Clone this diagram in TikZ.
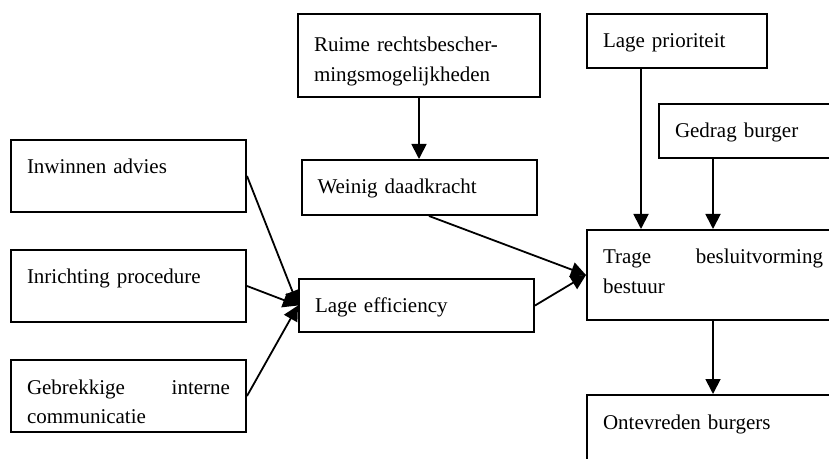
\documentclass[tikz,border=0pt]{standalone}
\usepackage{fontspec}
\setmainfont{Liberation Serif}
\usetikzlibrary{arrows.meta, positioning}
\tikzset{
    % text frames: text sits at the top left, frame grows downwards with text depth
    factor/.style = {rectangle, draw, line width=1pt, anchor=north west, align=left, inner xsep=8pt, inner ysep=9.5pt, text height=7.5pt, text width=101.5pt, font=\fontsize{10.5}{14.7}\selectfont},
    arrow/.style = {line width=0.9pt, -{Triangle[length=7.5pt, width=7.5pt]}}
}
\begin{document}
\begin{tikzpicture}[x=0.5pt, y=-0.5pt]
\useasboundingbox (0,0) rectangle (829,459);
\clip (0,0) rectangle (829,459);

% left column
\node[factor, text depth=9.5pt] (advies) at (10,139) {Inwinnen advies};
\node[factor, text depth=9.5pt, below=18pt of advies] (procedure) {Inrichting procedure};
\node[factor, text depth=9.5pt, below=18pt of procedure] (communicatie) {Gebrekkige\hfill interne\\communicatie};

% middle column
\node[factor, text width=105pt, text height=9.5pt, text depth=13pt] (rechtsbescherming) at (297,13) {Ruime rechtsbescher-\\mingsmogelijkheden};
\node[factor, text depth=1pt, below=30.5pt of rechtsbescherming] (daadkracht) {Weinig daadkracht};
\node[factor, text depth=0pt] (efficiency) at (298,278) {Lage efficiency};

% right column
\node[factor, text width=74pt, text depth=0.5pt] (prioriteit) at (586,13) {Lage prioriteit};
\node[factor, text width=110pt, text depth=0.5pt] (gedrag) at (658,103) {Gedrag burger};
\node[factor, text width=110pt, text depth=18.5pt] (besluitvorming) at (586,229) {Trage\hfill besluitvorming\\bestuur};
\node[factor, text width=110pt, text depth=30pt, below=36.5pt of besluitvorming] (ontevreden) {Ontevreden burgers};

\draw[arrow] (advies.east) -- (efficiency.west);
\draw[arrow] (procedure.east) -- (efficiency.west);
\draw[arrow] (communicatie.east) -- (efficiency.west);
\draw[arrow] (rechtsbescherming) -- (daadkracht);
\draw[arrow] ([xshift=5pt]daadkracht.south) -- (besluitvorming.west);
\draw[arrow] (efficiency.east) -- (besluitvorming.west);
\draw[arrow] ([xshift=-18pt]prioriteit.south) -- ([xshift=-18pt]prioriteit.south |- besluitvorming.north);
\draw[arrow] (gedrag.south -| besluitvorming.north) -- (besluitvorming.north);
\draw[arrow] (besluitvorming) -- (ontevreden);

\end{tikzpicture}
\end{document}
